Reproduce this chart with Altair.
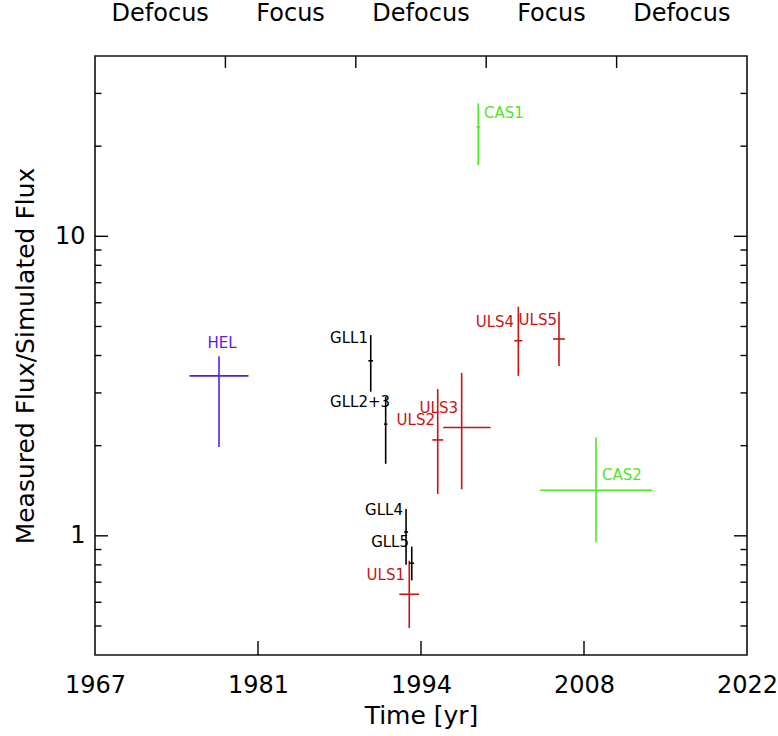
import altair as alt
import pandas as pd

# ---- data ----
names = ["HEL", "GLL1", "GLL2+3", "GLL4", "GLL5", "ULS1", "ULS2", "ULS3",
         "CAS1", "ULS4", "ULS5", "CAS2"]
groups = ["HEL", "GLL", "GLL", "GLL", "GLL", "ULS", "ULS", "ULS",
          "CAS", "ULS", "ULS", "CAS"]
x_vals = [1977.46, 1990.26, 1991.52, 1993.24, 1993.72, 1993.51, 1995.91, 1997.93,
          1999.33, 2002.71, 2006.14, 2009.26]
x_lo = [1974.97, 1990.06, 1991.38, 1993.07, 1993.52, 1992.67, 1995.45, 1996.38,
        1999.18, 2002.37, 2005.64, 2004.54]
x_hi = [1979.95, 1990.46, 1991.66, 1993.41, 1993.92, 1994.33, 1996.37, 2000.38,
        1999.48, 2003.05, 2006.64, 2014.01]
y_vals = [3.42, 3.84, 2.36, 1.03, 0.81, 0.638, 2.09, 2.30, 23.2, 4.48, 4.54, 1.42]
y_lo = [1.98, 3.03, 1.74, 0.80, 0.71, 0.492, 1.38, 1.43, 17.3, 3.42, 3.69, 0.95]
y_hi = [3.98, 4.68, 2.91, 1.23, 0.92, 0.826, 3.09, 3.50, 27.8, 5.82, 5.60, 2.13]

label_x = [1977.71, 1990.03, 1991.89, 1992.98, 1993.49, 1993.15, 1995.68, 1997.62,
           1999.81, 2002.35, 2005.97, 2009.77]
label_y = [4.40, 4.58, 2.80, 1.22, 0.956, 0.740, 2.44, 2.67, 25.8, 5.19, 5.25, 1.60]
label_align = ["center", "right", "right", "right", "right", "right", "right", "right",
               "left", "right", "right", "left"]

group_names = ["HEL", "GLL", "ULS", "CAS"]
group_colors = ["#5a1ee0", "#000000", "#c81414", "#50e628"]

x_tick_vals = [1967, 1980.75, 1994.5, 2008.25, 2022]
x_tick_labels = ["1967", "1981", "1994", "2008", "2022"]
x_inner_ticks = [1980.75, 1994.5, 2008.25]
top_ticks = [1978, 1989, 2000, 2011]
top_centers = [1972.5, 1983.5, 1994.5, 2005.5, 2016.5]
top_labels = ["Defocus", "Focus", "Defocus", "Focus", "Defocus"]
y_major = [1, 10]
y_minor = [0.5, 0.6, 0.7, 0.8, 0.9, 2, 3, 4, 5, 6, 7, 8, 9, 20, 30]

W, H = 652, 599
FONT = "DejaVu Sans"

df = pd.DataFrame({"name": names, "grp": groups, "x": x_vals, "xlo": x_lo, "xhi": x_hi,
                   "y": y_vals, "ylo": y_lo, "yhi": y_hi,
                   "lx": label_x, "ly": label_y, "al": label_align})

xscale = alt.Scale(domain=[1967, 2022], nice=False, zero=False)
yscale = alt.Scale(type="log", domain=[0.4, 40], nice=False)
cscale = alt.Scale(domain=group_names, range=group_colors)

label_expr = ""
for v, t in zip(x_tick_vals, x_tick_labels):
    label_expr += f"datum.value == {v} ? '{t}' : "
label_expr += "''"

xaxis = alt.Axis(values=x_tick_vals, labelExpr=label_expr, ticks=False, domain=False,
                 grid=False, labelFont=FONT, labelFontSize=24, labelColor="black",
                 labelPadding=18, labelOverlap=False, labelFlush=False,
                 title="Time [yr]", titleFont=FONT, titleFontSize=25,
                 titleFontWeight="normal", titleColor="black", titlePadding=6)
yaxis = alt.Axis(values=y_major, format="d", ticks=False, domain=False, grid=False,
                 labelFont=FONT, labelFontSize=24, labelColor="black", labelPadding=10,
                 title="Measured Flux/Simulated Flux", titleFont=FONT, titleFontSize=25,
                 titleFontWeight="normal", titleColor="black", titlePadding=16)


def X(field):
    return alt.X(field, scale=xscale, axis=xaxis)


def Y(field):
    return alt.Y(field, scale=yscale, axis=yaxis)


base = alt.Chart(df)
color = alt.Color("grp:N", scale=cscale, legend=None)

vbars = base.mark_rule(strokeWidth=1.6).encode(
    x=X("x:Q"), y=Y("ylo:Q"), y2="yhi:Q", color=color)
hbars = base.mark_rule(strokeWidth=1.6).encode(
    x=X("xlo:Q"), x2="xhi:Q", y=Y("y:Q"), color=color)

text_layers = []
for a in ["left", "right", "center"]:
    text_layers.append(
        base.transform_filter(alt.datum.al == a).mark_text(
            align=a, baseline="middle", font=FONT, fontSize=15
        ).encode(x=X("lx:Q"), y=Y("ly:Q"), text="name:N", color=color)
    )

maj_df = pd.DataFrame({"v": y_major})
min_df = pd.DataFrame({"v": y_minor})
tick_layers = []
for d, L in [(maj_df, 13), (min_df, 6.5)]:
    tick_layers.append(alt.Chart(d).mark_rule(color="black", strokeWidth=1.4).encode(
        y=Y("v:Q"), x=alt.value(0), x2=alt.value(L)))
    tick_layers.append(alt.Chart(d).mark_rule(color="black", strokeWidth=1.4).encode(
        y=Y("v:Q"), x=alt.value(W), x2=alt.value(W - L)))

bt_df = pd.DataFrame({"v": x_inner_ticks})
tt_df = pd.DataFrame({"v": top_ticks})
tick_layers.append(alt.Chart(bt_df).mark_rule(color="black", strokeWidth=1.4).encode(
    x=X("v:Q"), y=alt.value(H), y2=alt.value(H - 14)))
tick_layers.append(alt.Chart(tt_df).mark_rule(color="black", strokeWidth=1.4).encode(
    x=X("v:Q"), y=alt.value(0), y2=alt.value(12)))

top_df = pd.DataFrame({"v": top_centers, "t": top_labels})
top_text = alt.Chart(top_df).mark_text(
    align="center", baseline="middle", font=FONT, fontSize=24, color="black"
).encode(x=X("v:Q"), y=alt.value(-42), text="t:N")

chart = alt.layer(vbars, hbars, *text_layers, *tick_layers, top_text).properties(
    width=W, height=H,
    autosize=alt.AutoSizeParams(type="none"),
    padding={"left": 95, "top": 56, "right": 31, "bottom": 81},
).configure_view(stroke="#111111", strokeWidth=1.6).configure_axis(grid=False)

chart.save("out.html", embed_options={"renderer": "svg", "actions": False})
